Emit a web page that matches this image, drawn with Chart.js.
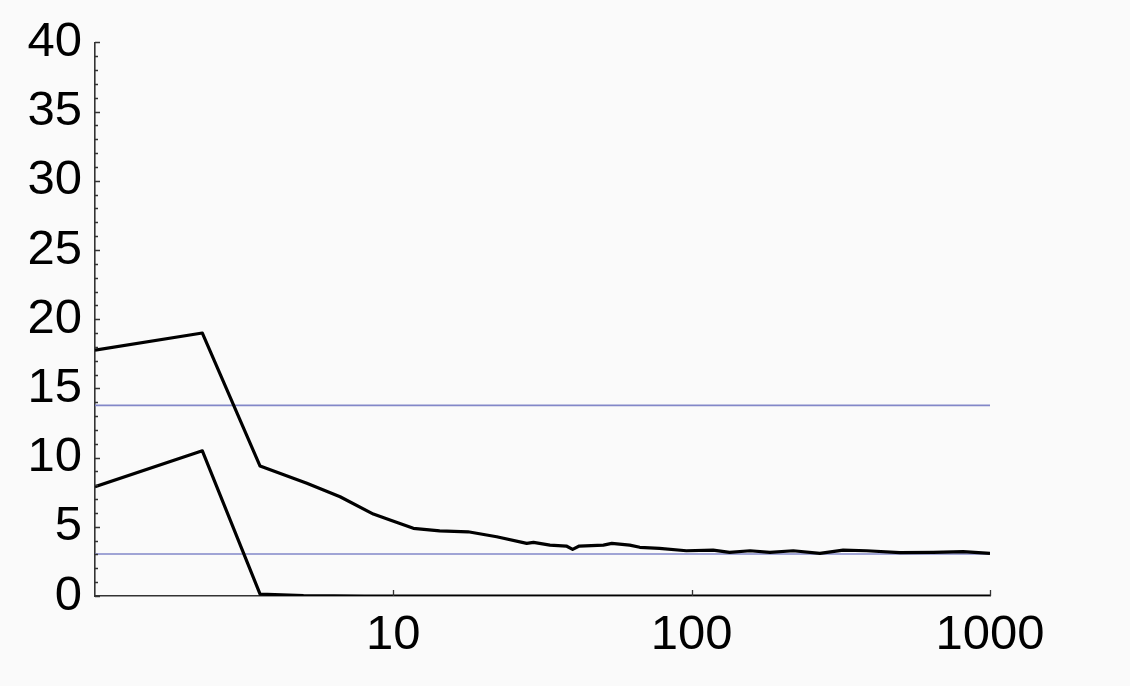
<!DOCTYPE html>
<html>
<head>
<meta charset="utf-8">
<script src="https://cdn.jsdelivr.net/npm/chart.js@4/dist/chart.umd.min.js"></script>
<style>
  html, body { margin: 0; padding: 0; background: #fafafa; }
  canvas { display: block; }
</style>
</head>
<body>
<canvas id="chart" width="1130" height="686"></canvas>
<script>
// upper black curve
const upperX = [1, 2.29, 3.575, 5.13, 6.63, 8.57, 9.75, 11.67, 14.3, 17.8, 22.2, 28, 29.5, 33.5, 38, 39.9, 42, 50.6, 54, 62, 67, 78, 96, 118, 134, 157, 183, 219, 269, 322, 386, 499, 645, 813, 1000];
const upperY = [17.76, 19.0, 9.39, 8.14, 7.17, 5.92, 5.49, 4.89, 4.71, 4.64, 4.28, 3.80, 3.87, 3.68, 3.61, 3.37, 3.61, 3.68, 3.80, 3.68, 3.52, 3.44, 3.27, 3.32, 3.15, 3.27, 3.15, 3.27, 3.08, 3.32, 3.27, 3.13, 3.15, 3.20, 3.08];

// lower black curve
const lowerX = [1, 2.29, 3.575, 5, 8, 1000];
const lowerY = [7.89, 10.49, 0.14, 0.03, 0, 0];

// blue reference levels
const refLevels = [13.77, 3.03];
const refRange = [1, 1000];

const xTicks = [1, 10, 100, 1000];
const yMin = 0, yMax = 40, yStep = 5;

const toPoints = (xs, ys) => xs.map((x, i) => ({x: x, y: ys[i]}));

const black = {borderColor: '#000', borderWidth: 3.2, pointRadius: 0, fill: false, tension: 0, borderJoinStyle: 'round'};
const blue = {borderColor: 'rgb(130,135,200)', borderWidth: 1.6, pointRadius: 0, fill: false, tension: 0};

const datasets = [
  Object.assign({data: toPoints(upperX, upperY), order: 0}, black),
  Object.assign({data: toPoints(lowerX, lowerY), order: 0}, black)
];
refLevels.forEach(level => {
  datasets.push(Object.assign({data: refRange.map(x => ({x: x, y: level})), order: 1}, blue));
});

// background + inward tick marks (Mathematica style)
const frame = {
  id: 'frame',
  beforeDraw(chart) {
    const c = chart.ctx;
    c.save();
    c.fillStyle = '#fafafa';
    c.fillRect(0, 0, chart.width, chart.height);
    c.restore();
  },
  afterDraw(chart) {
    const c = chart.ctx;
    const xs = chart.scales.x, ys = chart.scales.y;
    const left = chart.chartArea.left, bottom = chart.chartArea.bottom;
    c.save();
    c.strokeStyle = '#333';
    c.lineWidth = 1.3;
    c.beginPath();
    for (let v = yMin; v <= yMax; v++) {
      const py = Math.round(ys.getPixelForValue(v)) + 0.5;
      const len = v % yStep === 0 ? 5 : 3;
      c.moveTo(left, py);
      c.lineTo(left + len, py);
    }
    xTicks.slice(1).forEach(v => {
      const px = Math.round(xs.getPixelForValue(v)) + 0.5;
      c.moveTo(px, bottom);
      c.lineTo(px, bottom - 6);
    });
    c.stroke();
    c.restore();
  }
};

const tickFont = {family: "'Liberation Sans', Arial, sans-serif", size: 49};

new Chart(document.getElementById('chart'), {
  type: 'line',
  data: {datasets: datasets},
  options: {
    responsive: false,
    animation: false,
    layout: {padding: {top: 42, right: 140, left: 0, bottom: 0}},
    plugins: {legend: {display: false}, tooltip: {enabled: false}},
    scales: {
      x: {
        type: 'logarithmic',
        min: 1,
        max: 1000,
        afterBuildTicks: scale => { scale.ticks = xTicks.map(v => ({value: v})); },
        afterFit: scale => { scale.height = 90; },
        ticks: {
          font: tickFont,
          color: '#000',
          padding: 10,
          maxRotation: 0,
          autoSkip: false,
          callback: v => (v === 1 ? '' : String(v))
        },
        grid: {display: true, drawOnChartArea: false, drawTicks: false},
        border: {display: true, color: '#333', width: 1.6}
      },
      y: {
        min: yMin,
        max: yMax,
        afterFit: scale => { scale.width = 95; },
        ticks: {stepSize: yStep, font: tickFont, color: '#000', padding: 13},
        grid: {display: true, drawOnChartArea: false, drawTicks: false},
        border: {display: true, color: '#333', width: 1.6}
      }
    }
  },
  plugins: [frame]
});
</script>
</body>
</html>
